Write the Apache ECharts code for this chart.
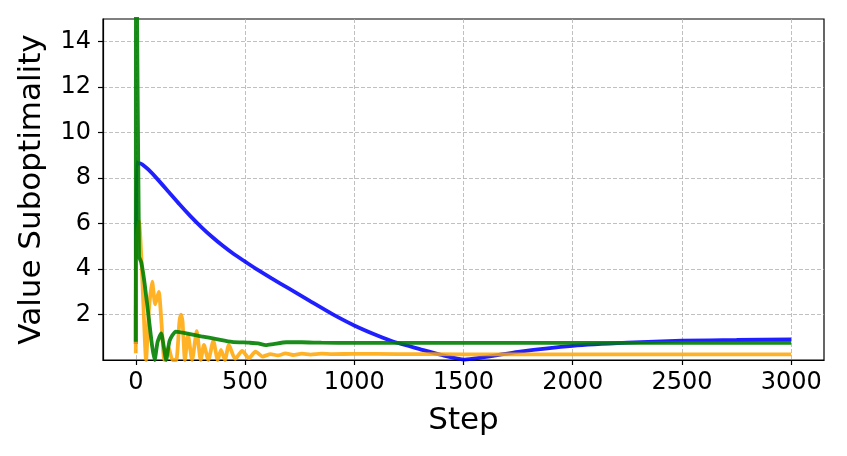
<!DOCTYPE html>
<html>
<head>
<meta charset="utf-8">
<script src="https://cdn.jsdelivr.net/npm/echarts@6/dist/echarts.min.js"></script>
<style>
  html, body { margin: 0; padding: 0; background: #fff; }
  #chart { width: 847px; height: 456px; }
</style>
</head>
<body>
<div id="chart"></div>
<script>
// tick labels
const xTicks = [0, 500, 1000, 1500, 2000, 2500, 3000]
const yTicks = [2, 4, 6, 8, 10, 12, 14]

// blue curve
const blueSteps = [0, 3, 12, 20, 30, 57, 95, 150, 200, 250, 300, 350, 400, 450, 500, 549, 620, 700, 800, 898, 1000, 1100, 1188, 1300, 1400, 1506, 1750, 2000, 2250, 2500, 2750, 3000]
const blueValues = [0.7, 8.7, 8.64, 8.65, 8.6, 8.38, 8.0, 7.4, 6.85, 6.33, 5.85, 5.41, 5.01, 4.65, 4.33, 4.02, 3.6, 3.15, 2.58, 2.03, 1.52, 1.1, 0.78, 0.48, 0.22, 0.02, 0.36, 0.62, 0.76, 0.85, 0.88, 0.91]

// orange curve
const orangeSteps = [0, 3, 15, 25, 35, 47, 60, 75, 89, 105, 118, 131, 150, 168, 185, 200, 207, 214, 225, 239, 258, 279, 297, 312, 332, 355, 375, 390, 408, 426, 455, 487, 518, 548, 580, 617, 650, 685, 720, 760, 800, 850, 900, 1000, 1200, 1500, 2000, 2500, 3000]
const orangeValues = [0.3, 5.2, 6.1, 4.6, 2.4, 0, 2.2, 3.45, 2.45, 3.0, 1.6, 0, 0.55, 0, 0, 1.7, 2.0, 1.7, 0, 1.1, 0, 1.27, 0, 0.66, 0, 0.84, 0, 0.44, 0, 0.66, 0.05, 0.40, 0.08, 0.37, 0.15, 0.26, 0.2, 0.29, 0.22, 0.28, 0.24, 0.28, 0.26, 0.27, 0.26, 0.25, 0.25, 0.25, 0.25]

// green curve
const greenSteps = [0, 2, 15, 25, 40, 60, 75, 86, 100, 116, 128, 139, 155, 183, 215, 260, 300, 370, 440, 520, 560, 595, 630, 690, 760, 850, 1000, 1500, 2000, 2500, 3000]
const greenValues = [0.8, 20, 4.55, 4.3, 3.4, 1.8, 0.6, 0, 0.8, 1.17, 0.6, 0, 0.85, 1.25, 1.2, 1.12, 1.04, 0.92, 0.8, 0.76, 0.73, 0.65, 0.7, 0.78, 0.78, 0.76, 0.75, 0.75, 0.75, 0.75, 0.75]

function pairs(xs, ys) {
    return xs.map((x, i) => [x, ys[i]])
}

const font = 'DejaVu Sans'
const chart = echarts.init(document.getElementById('chart'))

const lineSeries = (data, color) => ({
    type: 'line',
    data: data,
    showSymbol: false,
    smooth: 0.2,
    lineStyle: { color: color, width: 3.8 },
    itemStyle: { color: color }
})

const option = {
    animation: false,
    grid: {
        left: 103, right: 23, top: 19, bottom: 96,
        show: true,
        borderColor: '#000',
        borderWidth: 1.2,
        backgroundColor: 'transparent'
    },
    xAxis: {
        type: 'value',
        min: -150,
        max: 3150,
        name: 'Step',
        nameLocation: 'middle',
        nameGap: 45,
        nameTextStyle: { fontFamily: font, fontSize: 31, color: '#000' },
        axisLine: { onZero: false, lineStyle: { color: '#000', width: 1.2 } },
        axisTick: { customValues: xTicks, length: 5, lineStyle: { color: '#000', width: 1.2 } },
        axisLabel: {
            customValues: xTicks, fontFamily: font, fontSize: 24, color: '#000', margin: 11,
            formatter: v => String(v)
        },
        splitLine: { show: true, lineStyle: { color: '#b0b0b0', width: 0.8, type: [4, 2] } }
    },
    yAxis: {
        type: 'value',
        min: 0,
        max: 15,
        name: 'Value Suboptimality',
        nameLocation: 'middle',
        nameGap: 56,
        nameTextStyle: { fontFamily: font, fontSize: 31, color: '#000' },
        axisLine: { onZero: false, lineStyle: { color: '#000', width: 1.2 } },
        axisTick: { customValues: yTicks, length: 5, lineStyle: { color: '#000', width: 1.2 } },
        axisLabel: { customValues: yTicks, fontFamily: font, fontSize: 24, color: '#000', margin: 12 },
        splitLine: { show: true, lineStyle: { color: '#b0b0b0', width: 0.8, type: [4, 2] } }
    },
    series: [
        lineSeries(pairs(blueSteps, blueValues), 'rgba(0,0,255,0.88)'),
        lineSeries(pairs(orangeSteps, orangeValues), 'rgba(255,165,0,0.85)'),
        lineSeries(pairs(greenSteps, greenValues), 'rgba(0,128,0,0.9)')
    ]
}

chart.setOption(option)
</script>
</body>
</html>
